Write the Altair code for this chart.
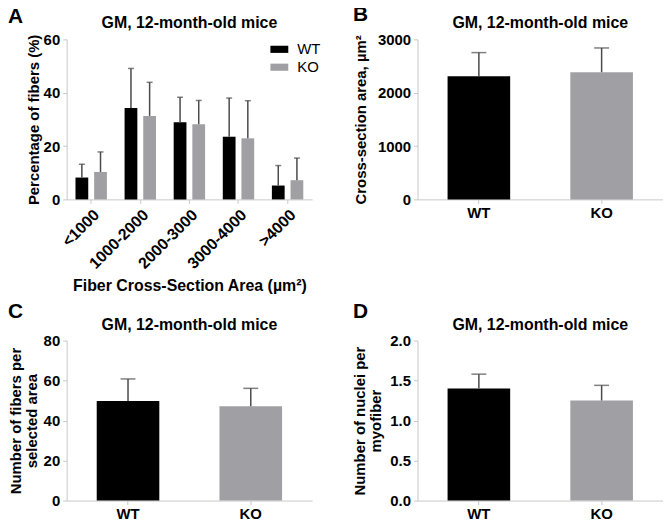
import altair as alt
import pandas as pd

FONT = "Liberation Sans"
ERR = "#4a4a4a"

bins = ["<1000", "1000-2000", "2000-3000", "3000-4000", ">4000"]
groups = ["WT", "KO"]
colors = ["#000000", "#a0a0a4"]
panel_title = "GM, 12-month-old mice"

a_wt_mean = [8.2, 34.3, 28.9, 23.5, 5.2]
a_wt_upper = [13.2, 49.1, 38.3, 38.0, 12.7]
a_ko_mean = [10.3, 31.3, 28.2, 22.9, 7.2]
a_ko_upper = [17.8, 43.9, 37.1, 37.0, 15.5]

b_mean = [2311, 2385]
b_upper = [2752, 2839]
c_mean = [49.8, 47.2]
c_upper = [60.8, 56.1]
d_mean = [1.40, 1.25]
d_upper = [1.58, 1.44]

W, H = 247, 161


def letter(ch, dx, dy):
    return alt.Chart(pd.DataFrame({"t": [ch]})).mark_text(
        font=FONT, fontSize=21, fontWeight="bold", align="left",
        baseline="alphabetic", color="black"
    ).encode(text="t:N", x=alt.value(dx), y=alt.value(dy))


def head():
    return alt.Chart(pd.DataFrame({"t": [panel_title]})).mark_text(
        font=FONT, fontSize=16, fontWeight="bold", align="center",
        baseline="alphabetic", color="black"
    ).encode(text="t:N", x=alt.value(W / 2), y=alt.value(-11))


# ---------- Panel A ----------
dfA = pd.DataFrame({
    "bin": bins * 2,
    "group": ["WT"] * 5 + ["KO"] * 5,
    "mean": a_wt_mean + a_ko_mean,
    "upper": a_wt_upper + a_ko_upper,
})
xA = alt.X("bin:N", sort=bins,
           scale=alt.Scale(paddingInner=0, paddingOuter=0),
           axis=alt.Axis(title="Fiber Cross-Section Area (µm²)", labelAngle=-45,
                         titlePadding=6, titleFontSize=16, labelFontSize=16))
xoA = alt.XOffset("group:N", sort=groups,
                  scale=alt.Scale(paddingInner=0.316, paddingOuter=0.474))
axA = alt.Axis(values=[0, 20, 40, 60], title="Percentage of fibers (%)", titlePadding=2)
scA = alt.Scale(domain=[0, 60])

barsA = alt.Chart(dfA).mark_bar().encode(
    x=xA, xOffset=xoA,
    y=alt.Y("mean:Q", scale=scA, axis=axA),
    color=alt.Color("group:N", sort=groups,
                    scale=alt.Scale(domain=groups, range=colors),
                    legend=alt.Legend(title=None, orient="none", legendX=205, legendY=1,
                                      symbolType="M-1,-0.4L1,-0.4L1,0.4L-1,0.4Z",
                                      symbolSize=324, symbolStrokeWidth=0,
                                      labelFont=FONT, labelFontSize=15, labelColor="black",
                                      labelOffset=9, rowPadding=1, padding=0)),
)
errA = alt.Chart(dfA).mark_rule(color=ERR, strokeWidth=1.5).encode(
    x=xA, xOffset=xoA,
    y=alt.Y("mean:Q", scale=scA, axis=axA), y2="upper:Q")
capA = alt.Chart(dfA).mark_tick(color=ERR, thickness=1.5, size=6, orient="horizontal").encode(
    x=xA, xOffset=xoA,
    y=alt.Y("upper:Q", scale=scA, axis=axA))
A = alt.layer(barsA, errA, capA, head(), letter("A", -59, -16)).properties(
    width=W, height=H)


# ---------- two-bar panels ----------
def two_bar(means, uppers, domain, ticks, ytitle, tpad, fmt, ch, ldx, ldy, capw):
    df = pd.DataFrame({"group": groups, "mean": means, "upper": uppers})
    x = alt.X("group:N", sort=groups,
              scale=alt.Scale(paddingInner=0.49, paddingOuter=0.245),
              axis=alt.Axis(title=None, labelAngle=0, labelPadding=2))
    ax = alt.Axis(values=ticks, title=ytitle, titlePadding=tpad, format=fmt,
                  titleLineHeight=16)
    sc = alt.Scale(domain=domain)
    bars = alt.Chart(df).mark_bar().encode(
        x=x, y=alt.Y("mean:Q", scale=sc, axis=ax),
        color=alt.Color("group:N", sort=groups,
                        scale=alt.Scale(domain=groups, range=colors), legend=None))
    err = alt.Chart(df).mark_rule(color=ERR, strokeWidth=1.5).encode(
        x=x, y=alt.Y("mean:Q", scale=sc, axis=ax), y2="upper:Q")
    cap = alt.Chart(df).mark_tick(color=ERR, thickness=1.5, size=capw, orient="horizontal").encode(
        x=x, y=alt.Y("upper:Q", scale=sc, axis=ax))
    return alt.layer(bars, err, cap, head(), letter(ch, ldx, ldy)).properties(
        width=W, height=H)


B = two_bar(b_mean, b_upper, [0, 3000], [0, 1000, 2000, 3000],
            "Cross-section area, µm²", 9, "d", "B", -65, -18, 15)
C = two_bar(c_mean, c_upper, [0, 80], [0, 20, 40, 60, 80],
            ["Number of fibers per", "selected area"], 4, "d", "C", -59, -23, 15)
D = two_bar(d_mean, d_upper, [0, 2], [0, 0.5, 1.0, 1.5, 2.0],
            ["Number of nuclei per", "myofiber"], 6, ".1f", "D", -65, -23, 15)

chart = alt.concat(A, B, C, D, columns=2,
                   spacing={"row": 142, "column": 106}, bounds="flush").properties(
    padding={"top": -5, "left": 0, "right": 0, "bottom": 0}
).configure_view(stroke=None).configure_axis(
    labelFont=FONT, titleFont=FONT, labelFontSize=15, titleFontSize=15,
    labelFontWeight="bold", titleFontWeight="bold",
    labelColor="black", titleColor="black",
    domainColor="#c8c8c8", tickColor="#c8c8c8", tickSize=4, grid=False,
    labelPadding=3
)

chart.save("out.html", embed_options={"renderer": "svg", "actions": False})
